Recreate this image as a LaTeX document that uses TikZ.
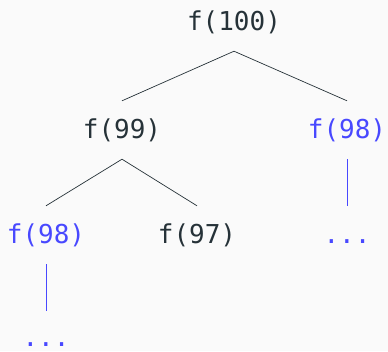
\documentclass[tikz,border=0pt]{standalone}
\usepackage{fontspec}
\setmonofont{DejaVu Sans Mono}

\definecolor{ink}{HTML}{263238}
\definecolor{memo}{HTML}{4848FF}
\definecolor{paper}{HTML}{FAFAFA}

\begin{document}
\begin{tikzpicture}[x=1pt,y=-1pt,
  call/.style={font=\ttfamily\fontsize{26}{30}\selectfont, text=ink, anchor=base,
    text height=18pt, text depth=2pt, inner xsep=0pt, inner ysep=19pt},
  cached/.style={call, text=memo},
  link/.style={draw=ink, line width=0.7pt},
  reuse/.style={draw=memo, line width=0.9pt}]
  % canvas
  \fill[paper] (0,0) rectangle (388,351);
  \useasboundingbox (0,0) rectangle (388,351);

  % calls (placed on their baselines)
  \node[call]   (f100)  at (234,30)  {f(100)};
  \node[call]   (f99)   at (122,138) {f(99)};
  \node[cached] (f98r)  at (347,138) {f(98)};
  \node[cached] (f98l)  at (46,243)  {f(98)};
  \node[call]   (f97)   at (197,243) {f(97)};
  \node[cached] (dotsr) at (347,243) {...};
  \node[cached, text depth=0pt] (dotsl) at (46,346)  {...};

  % recursion edges
  \draw[link] (f100.south) -- (f99.north);
  \draw[link] (f100.south) -- (f98r.north);
  \draw[link] (f99.south) -- (f98l.north);
  \draw[link] (f99.south) -- (f97.north);

  % repeated subtrees
  \draw[reuse] (f98r.south) -- (dotsr.north);
  \draw[reuse] (f98l.south) -- ([yshift=-2pt]dotsl.north);
\end{tikzpicture}
\end{document}
